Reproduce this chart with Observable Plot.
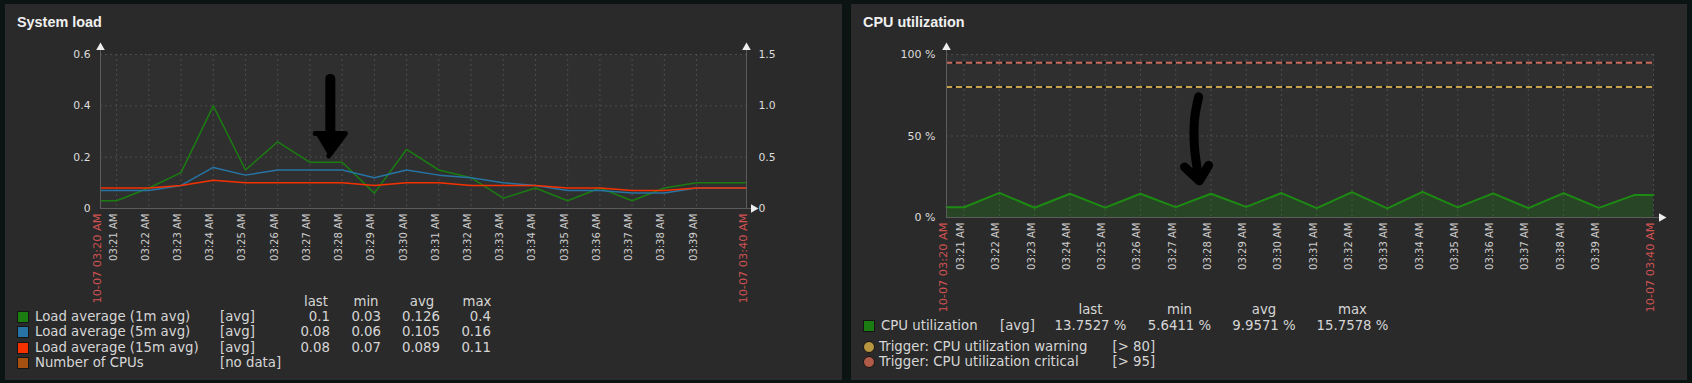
<!DOCTYPE html>
<html><head><meta charset="utf-8">
<script src="https://cdn.jsdelivr.net/npm/d3@7"></script>
<script src="https://cdn.jsdelivr.net/npm/@observablehq/plot@0.6"></script>
<style>
html,body{margin:0;padding:0;background:#0c1313;width:1692px;height:383px;overflow:hidden;position:relative;font-family:"DejaVu Sans",sans-serif;}
.panel{position:absolute;background:#2a2a2a;}
.title{position:absolute;font-family:"Liberation Sans",Arial,sans-serif;font-weight:bold;font-size:14.4px;line-height:16px;color:#f0f0f0;white-space:nowrap;}
.t{position:absolute;white-space:nowrap;font-size:13.3px;line-height:16px;color:#d6d6d6;z-index:2;}
.sq{position:absolute;width:12px;height:12px;box-sizing:border-box;border:1px solid #151515;z-index:2;}
.ci{position:absolute;width:12px;height:12px;box-sizing:border-box;border:1px solid #151515;border-radius:50%;z-index:2;}
.chart{position:absolute;z-index:1;}
</style></head><body>
<div class="panel" style="left:5px;top:4px;width:837px;height:376px"></div>
<div class="panel" style="left:851px;top:4px;width:836px;height:376px"></div>
<div class="title" style="left:17px;top:14px">System load</div>
<div class="title" style="left:863px;top:14px">CPU utilization</div>
<div id="c1" class="chart" style="left:5px;top:30px"></div>
<div id="c2" class="chart" style="left:851px;top:30px"></div>
<script>
// ---------- data ----------
const day = "2023-10-07";
const rangeStart = "03:20:30";
const rangeEnd = "03:40:33";
const edgeLabels = ["10-07 03:20 AM", "10-07 03:40 AM"];
const sampleTimes = ["03:20:30","03:21:00","03:22:00","03:23:00","03:24:00","03:25:00","03:26:00","03:27:00","03:28:00","03:29:00","03:30:00",
  "03:31:00","03:32:00","03:33:00","03:34:00","03:35:00","03:36:00","03:37:00","03:38:00","03:39:00","03:40:00","03:40:33"];
const tickTimes = ["03:21:00","03:22:00","03:23:00","03:24:00","03:25:00","03:26:00","03:27:00","03:28:00","03:29:00","03:30:00",
  "03:31:00","03:32:00","03:33:00","03:34:00","03:35:00","03:36:00","03:37:00","03:38:00","03:39:00"];
const tickLabels = ["03:21 AM","03:22 AM","03:23 AM","03:24 AM","03:25 AM","03:26 AM","03:27 AM","03:28 AM","03:29 AM","03:30 AM",
  "03:31 AM","03:32 AM","03:33 AM","03:34 AM","03:35 AM","03:36 AM","03:37 AM","03:38 AM","03:39 AM"];

const load1  = [0.03,0.03,0.08,0.14,0.40,0.15,0.26,0.18,0.18,0.06,0.23,0.15,0.12,0.04,0.08,0.03,0.08,0.03,0.08,0.10,0.10,0.10];
const load5  = [0.07,0.07,0.07,0.09,0.16,0.13,0.15,0.15,0.15,0.12,0.15,0.13,0.12,0.10,0.09,0.07,0.07,0.06,0.06,0.08,0.08,0.08];
const load15 = [0.08,0.08,0.08,0.09,0.11,0.10,0.10,0.10,0.10,0.09,0.10,0.10,0.09,0.09,0.09,0.08,0.08,0.07,0.07,0.08,0.08,0.08];
const cpu    = [6.3,6.3,15.1,6.0,14.6,6.1,14.6,6.4,14.6,6.5,15.0,5.8,15.6,5.64,15.76,6.2,14.8,5.8,15.0,5.9,13.75,13.75];

const loadTicks = [0, 0.2, 0.4, 0.6];
const loadLeftLabels = ["0", "0.2", "0.4", "0.6"];
const loadRightLabels = ["0", "0.5", "1.0", "1.5"];
const cpuTicks = [0, 50, 100];
const cpuTickLabels = ["0 %", "50 %", "100 %"];

const loadNames = ["Load average (1m avg)", "Load average (5m avg)", "Load average (15m avg)", "Number of CPUs"];
const loadColors = ["#1A7C11", "#2774A4", "#F63100", "#A54F10"];
const loadFunc = ["[avg]", "[avg]", "[avg]", "[no data]"];
const loadLast = ["0.1", "0.08", "0.08"];
const loadMin  = ["0.03", "0.06", "0.07"];
const loadAvg  = ["0.126", "0.105", "0.089"];
const loadMax  = ["0.4", "0.16", "0.11"];
const statHeaders = ["last", "min", "avg", "max"];

const cpuName = "CPU utilization";
const cpuColor = "#1A7C11";
const cpuStats = ["13.7527 %", "5.6411 %", "9.9571 %", "15.7578 %"];
const triggerNames = ["Trigger: CPU utilization warning", "Trigger: CPU utilization critical"];
const triggerConds = ["[> 80]", "[> 95]"];
const triggerValues = [80, 95];
const triggerColors = ["#c9a14c", "#c9685a"];
const triggerDots = ["#b8963f", "#b05a48"];

// hand-drawn annotation arrows (time, value)
const loadArrowShaft = [["03:27:38", 0.505], ["03:27:38", 0.27]];
const loadArrowHead = [["03:27:10", 0.292], ["03:28:06", 0.292], ["03:27:35", 0.205]];
const cpuArrowShaft = [["03:27:39", 74], ["03:27:32", 60], ["03:27:32", 43], ["03:27:37", 29], ["03:27:40", 23]];
const cpuArrowHead = [["03:27:15", 31], ["03:27:40", 22.5], ["03:27:56", 32]];

// ---------- helpers ----------
const T = s => new Date(`${day}T${s}`);
const xDomain = [T(rangeStart), T(rangeEnd)];
const ticksD = tickTimes.map(T);
const rows = sampleTimes.map((s, i) => ({t: T(s), l1: load1[i], l5: load5[i], l15: load15[i], cpu: cpu[i]}));
const ann = a => a.map(([s, v]) => ({t: T(s), v}));
const gridStroke = "#4d4d4d";
const axisStroke = "#5c5c5c";
const font = "DejaVu Sans";

function commonTimeMarks() {
  return [
    Plot.text(ticksD, {x: d => d, frameAnchor: "bottom", rotate: -90, textAnchor: "end", dy: 5,
      text: (d, i) => tickLabels[i], fontSize: 10, fill: "#cdcdcd"}),
    Plot.text(xDomain, {x: d => d, frameAnchor: "bottom", rotate: -90, textAnchor: "end", dy: 5,
      text: (d, i) => edgeLabels[i], fontSize: 11.3, fill: "#cf5252"})
  ];
}

// ---------- System load ----------
const yMaxL = loadTicks[loadTicks.length - 1];
const left = Plot.plot({
  width: 837, height: 280, marginLeft: 95, marginRight: 96, marginTop: 24, marginBottom: 102,
  style: {background: "transparent", fontFamily: font, fontSize: "10.8px", color: "#dddddd", overflow: "visible"},
  x: {type: "time", domain: xDomain, axis: null},
  y: {domain: [0, yMaxL], axis: null},
  marks: [
    Plot.frame({fill: "#2f2f2f", stroke: "none"}),
    Plot.ruleX(ticksD, {stroke: gridStroke, strokeDasharray: "2,3"}),
    Plot.ruleY(loadTicks.slice(1), {stroke: gridStroke, strokeDasharray: "2,3"}),
    Plot.lineY(rows, {x: "t", y: "l1", stroke: loadColors[0], strokeWidth: 1.5}),
    Plot.lineY(rows, {x: "t", y: "l5", stroke: loadColors[1], strokeWidth: 1.5}),
    Plot.lineY(rows, {x: "t", y: "l15", stroke: loadColors[2], strokeWidth: 1.5}),
    Plot.ruleX([xDomain[0]], {stroke: axisStroke, insetTop: -7}),
    Plot.ruleX([xDomain[1]], {stroke: axisStroke, insetTop: -7}),
    Plot.ruleY([0], {stroke: axisStroke, insetRight: -5}),
    Plot.dot(xDomain, {x: d => d, y: () => yMaxL, dy: -7, symbol: "triangle", r: 3.2, fill: "#eeeeee", stroke: "none"}),
    Plot.dot([xDomain[1]], {x: d => d, y: () => 0, dx: 7, symbol: "triangle", rotate: 90, r: 3.2, fill: "#eeeeee", stroke: "none"}),
    Plot.line(ann(loadArrowShaft), {x: "t", y: "v", stroke: "#000", strokeWidth: 10, strokeLinecap: "round"}),
    Plot.line(ann(loadArrowHead), {x: "t", y: "v", stroke: "#000", fill: "#000", strokeWidth: 5, strokeLinejoin: "round"}),
    Plot.axisY({ticks: loadTicks, tickFormat: d => loadLeftLabels[loadTicks.indexOf(d)], tickSize: 0, tickPadding: 10, fill: "#dddddd"}),
    Plot.axisY({anchor: "right", ticks: loadTicks, tickFormat: d => loadRightLabels[loadTicks.indexOf(d)], tickSize: 0, tickPadding: 12, fill: "#dddddd"}),
    ...commonTimeMarks()
  ]
});
document.getElementById("c1").appendChild(left);

// ---------- CPU utilization ----------
const yMaxC = cpuTicks[cpuTicks.length - 1];
const right = Plot.plot({
  width: 836, height: 280, marginLeft: 95, marginRight: 34, marginTop: 24, marginBottom: 93,
  style: {background: "transparent", fontFamily: font, fontSize: "11px", color: "#dddddd", overflow: "visible"},
  x: {type: "time", domain: xDomain, axis: null},
  y: {domain: [0, yMaxC], axis: null},
  marks: [
    Plot.frame({fill: "#2f2f2f", stroke: "none"}),
    Plot.ruleX(ticksD.concat([xDomain[1]]), {stroke: gridStroke, strokeDasharray: "2,3"}),
    Plot.ruleY(cpuTicks.slice(1), {stroke: gridStroke, strokeDasharray: "2,3"}),
    Plot.areaY(rows, {x: "t", y: "cpu", fill: cpuColor, fillOpacity: 0.3}),
    Plot.lineY(rows, {x: "t", y: "cpu", stroke: "#1d8a13", strokeWidth: 2}),
    Plot.ruleY(triggerValues, {stroke: "#111111", strokeWidth: 2, strokeDasharray: "2,8", strokeDashoffset: -7}),
    Plot.ruleY(triggerValues, {stroke: (d, i) => triggerColors[i], strokeWidth: 2, strokeDasharray: "6,4"}),
    Plot.ruleX([xDomain[0]], {stroke: axisStroke, insetTop: -7}),
    Plot.ruleY([0], {stroke: axisStroke, insetRight: -6}),
    Plot.dot([xDomain[0]], {x: d => d, y: () => yMaxC, dy: -7, symbol: "triangle", r: 3.2, fill: "#eeeeee", stroke: "none"}),
    Plot.dot([xDomain[1]], {x: d => d, y: () => 0, dx: 8, symbol: "triangle", rotate: 90, r: 3.2, fill: "#eeeeee", stroke: "none"}),
    Plot.line(ann(cpuArrowShaft), {x: "t", y: "v", curve: "catmull-rom", stroke: "#000", strokeWidth: 9, strokeLinecap: "round"}),
    Plot.line(ann(cpuArrowHead), {x: "t", y: "v", stroke: "#000", strokeWidth: 9, strokeLinecap: "round", strokeLinejoin: "round"}),
    Plot.axisY({ticks: cpuTicks, tickFormat: d => cpuTickLabels[cpuTicks.indexOf(d)], tickSize: 0, tickPadding: 11, fill: "#dddddd"}),
    ...commonTimeMarks()
  ]
});
document.getElementById("c2").appendChild(right);

// ---------- legends ----------
function txt(s, x, cy, align, color) {
  const d = document.createElement("div");
  d.className = "t";
  d.textContent = s;
  d.style.left = x + "px";
  d.style.top = (cy - 8) + "px";
  if (align === "right") d.style.transform = "translateX(-100%)";
  else if (align === "center") d.style.transform = "translateX(-50%)";
  if (color) d.style.color = color;
  document.body.appendChild(d);
}
function box(cls, x, cy, color) {
  const d = document.createElement("div");
  d.className = cls;
  d.style.left = x + "px";
  d.style.top = (cy - 6) + "px";
  d.style.background = color;
  document.body.appendChild(d);
}
// System load legend
const lHeadX = [316, 366, 422, 477];
const lValX = [330, 381, 440, 491];
const lRowY = [316.7, 332.2, 347.6, 363];
statHeaders.forEach((h, i) => txt(h, lHeadX[i], 301.5, "center"));
loadNames.forEach((n, i) => {
  box("sq", 17, lRowY[i], loadColors[i]);
  txt(n, 35, lRowY[i]);
  txt(loadFunc[i], 220, lRowY[i]);
  if (i < loadLast.length) {
    [loadLast, loadMin, loadAvg, loadMax].forEach((arr, j) => txt(arr[i], lValX[j], lRowY[i], "right"));
  }
});
// CPU legend
const cColX = [1090.5, 1179.5, 1264, 1352.5];
statHeaders.forEach((h, i) => txt(h, cColX[i], 310, "center"));
box("sq", 863, 326, cpuColor);
txt(cpuName, 881, 326);
txt("[avg]", 1000, 326);
cpuStats.forEach((s, i) => txt(s, cColX[i], 326, "center"));
const tRowY = [346.6, 362.4];
triggerNames.forEach((n, i) => {
  box("ci", 863, tRowY[i], triggerDots[i]);
  txt(n, 879, tRowY[i]);
  txt(triggerConds[i], 1112.5, tRowY[i]);
});
</script>
</body></html>
